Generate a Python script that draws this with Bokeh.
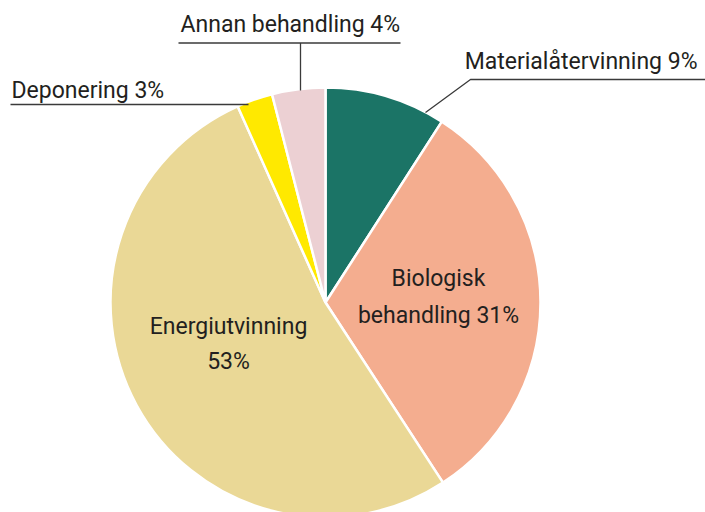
from math import pi
from bokeh.plotting import figure
from bokeh.models import Range1d, ColumnDataSource
from bokeh.core.properties import value
from bokeh.embed import file_html
from bokeh.resources import INLINE

# Data (share in percent, clockwise from 12 o'clock)
categories = ["Materialåtervinning", "Biologisk behandling", "Energiutvinning", "Deponering", "Annan behandling"]
labels_pct = [9, 31, 53, 3, 4]
shares = [9.1, 31.7, 52.5, 2.7, 4.0]
colors = ["#1b7466", "#f4ad8f", "#ead896", "#ffe900", "#ecd0d3"]

FONT = "Roboto"
TXT = "#231f20"

total = sum(shares)
starts, ends = [], []
acc = 0.0
for s in shares:
    a0 = pi / 2 - 2 * pi * acc / total
    acc += s
    a1 = pi / 2 - 2 * pi * acc / total
    starts.append(a0)
    ends.append(a1)

W, H = 705, 512
p = figure(width=W, height=H, output_backend="svg", toolbar_location=None,
           x_range=Range1d(0, W), y_range=Range1d(-H, 0),
           min_border=0, outline_line_color=None)
p.axis.visible = False
p.grid.visible = False
p.background_fill_color = "white"

cx, cy, r = 325, -302, 215
src = ColumnDataSource(dict(start=starts, end=ends, color=colors))
p.wedge(x=cx, y=cy, radius=r, start_angle="start", end_angle="end", direction="clock",
        fill_color="color", line_color="white", line_width=2.5, source=src)

# leader lines
lc = "#3a3a3a"
p.line([300, 300], [-90, -42.5], line_color=lc, line_width=1.3)
p.line([178, 400], [-42.5, -42.5], line_color=lc, line_width=1.3)
p.line([10, 248], [-104, -104], line_color=lc, line_width=1.3)
p.line([425, 470, 705], [-112, -79, -79], line_color=lc, line_width=1.3)

def lab(i):
    return f"{categories[i]} {labels_pct[i]}%"

fs = "23px"
d = 7  # baseline correction
p.text(x=[180], y=[-31 + d], text=[lab(4)], text_font=value(FONT), text_font_size=fs,
       text_color=TXT, text_align="left", text_baseline="alphabetic")
p.text(x=[11], y=[-97 + d], text=[lab(3)], text_font=value(FONT), text_font_size=fs,
       text_color=TXT, text_align="left", text_baseline="alphabetic")
p.text(x=[697], y=[-68 + d], text=[lab(0)], text_font=value(FONT), text_font_size=fs,
       text_color=TXT, text_align="right", text_baseline="alphabetic")
bio = categories[1].split(" ")
p.text(x=[438, 438], y=[-285 + d, -322 + d], text=[bio[0], f"{bio[1]} {labels_pct[1]}%"],
       text_font=value(FONT), text_font_size=fs, text_color=TXT,
       text_align="center", text_baseline="alphabetic")
p.text(x=[228, 228], y=[-333 + d, -368 + d], text=[categories[2], f"{labels_pct[2]}%"],
       text_font=value(FONT), text_font_size=fs, text_color=TXT,
       text_align="center", text_baseline="alphabetic")

open("out.html", "w").write(file_html(p, INLINE))
